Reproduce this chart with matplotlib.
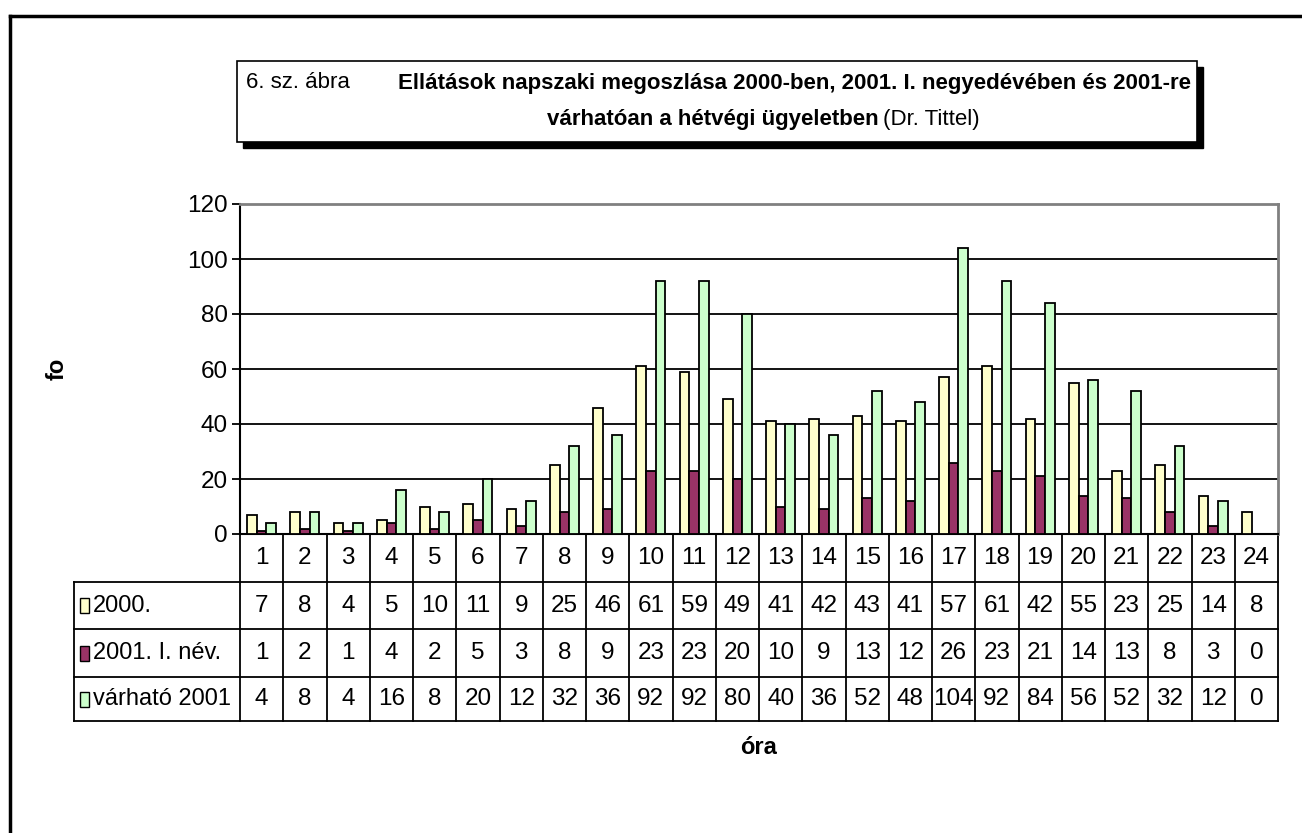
import matplotlib
matplotlib.use("Agg")
import matplotlib.pyplot as plt
import matplotlib.transforms as mtransforms
from matplotlib.patches import Rectangle
from matplotlib.lines import Line2D
from matplotlib import font_manager
import numpy as np

# Data
orak = list(range(1, 25))
ev_2000 = [7, 8, 4, 5, 10, 11, 9, 25, 46, 61, 59, 49, 41, 42, 43, 41, 57, 61, 42, 55, 23, 25, 14, 8]
ev_2001_inev = [1, 2, 1, 4, 2, 5, 3, 8, 9, 23, 23, 20, 10, 9, 13, 12, 26, 23, 21, 14, 13, 8, 3, 0]
varhato_2001 = [4, 8, 4, 16, 8, 20, 12, 32, 36, 92, 92, 80, 40, 36, 52, 48, 104, 92, 84, 56, 52, 32, 12, 0]
sor_nevek = ["2000.", "2001. I. név.", "várható 2001"]
szinek = ["#FFFFCC", "#993366", "#CCFFCC"]

# font: narrow if available
nevek = {f.name for f in font_manager.fontManager.ttflist}
if "Liberation Sans Narrow" in nevek:
    plt.rcParams["font.family"] = ["Liberation Sans Narrow", "DejaVu Sans"]
else:
    plt.rcParams["font.family"] = ["Liberation Sans", "DejaVu Sans"]

W, H = 1302, 833
fig = plt.figure(figsize=(W / 100, H / 100), dpi=100)

def fx(px):
    return px / W

def fy(py):
    return 1 - py / H

# outer frame (top and left visible)
fig.add_artist(Line2D([fx(10), 1.0], [fy(16), fy(16)], color="black", lw=2.5, transform=fig.transFigure))
fig.add_artist(Line2D([fx(10), fx(10)], [fy(16), 0.0], color="black", lw=2.5, transform=fig.transFigure))

# title box with shadow
bx0, by0, bx1, by1 = 237, 61, 1197, 142
fig.add_artist(Rectangle((fx(bx0 + 6), fy(by1 + 6)), fx(bx1 - bx0), fy(by0) - fy(by1),
                         transform=fig.transFigure, facecolor="black", edgecolor="black"))
fig.add_artist(Rectangle((fx(bx0), fy(by1)), fx(bx1 - bx0), fy(by0) - fy(by1),
                         transform=fig.transFigure, facecolor="white", edgecolor="black", lw=1.2))
fig.text(fx(246), fy(83), "6. sz. ábra", fontsize=16, va="center", ha="left")
fig.text(fx(1191), fy(83), "Ellátások napszaki megoszlása 2000-ben, 2001. I. negyedévében és 2001-re",
         fontsize=16, fontweight="bold", va="center", ha="right")
fig.text(fx(879), fy(119), "várhatóan a hétvégi ügyeletben", fontsize=16, fontweight="bold",
         va="center", ha="right")
fig.text(fx(883), fy(119), "(Dr. Tittel)", fontsize=16, va="center", ha="left")

# main axes
ax_left, ax_right, ax_top, ax_bot = 240, 1278, 204, 534
ax = fig.add_axes([fx(ax_left), fy(ax_bot), fx(ax_right - ax_left), fy(ax_top) - fy(ax_bot)])

x = np.array(orak)
w = 0.224
for i, (vals, c) in enumerate(zip([ev_2000, ev_2001_inev, varhato_2001], szinek)):
    v = np.array(vals, dtype=float)
    m = v > 0
    ax.bar(x[m] + (i - 1) * w, v[m], width=w, color=c, edgecolor="black", linewidth=1.3, zorder=3)

ax.set_xlim(0.5, 24.5)
ax.set_ylim(0, 120)
ax.set_yticks(range(0, 121, 20))
ax.tick_params(axis="y", labelsize=17.5, length=6, width=1.3, pad=3)
ax.set_xticks([])
for yv in range(20, 120, 20):
    ax.axhline(yv, color="black", lw=1.3, zorder=1)
ax.spines["top"].set_color("#808080")
ax.spines["right"].set_color("#808080")
ax.spines["top"].set_linewidth(2)
ax.spines["right"].set_linewidth(2)
ax.spines["left"].set_linewidth(1.5)
ax.spines["bottom"].set_linewidth(1.5)

ax.text(-(ax_left - 57) / (ax_right - ax_left), 0.5, "fo", transform=ax.transAxes,
        rotation=90, fontsize=17, fontweight="bold", ha="center", va="center")

# data table under the axis
tr = mtransforms.blended_transform_factory(ax.transData, ax.transAxes)
axh = ax_bot - ax_top

def ay(py):
    return (ax_bot - py) / axh

def axf(px):
    return (px - ax_left) / (ax_right - ax_left)

sor_hatarok = [534, 582, 629, 677, 721]
kozep = [(a + b) / 2 for a, b in zip(sor_hatarok[:-1], sor_hatarok[1:])]

for o in orak:
    ax.text(o, ay(kozep[0]), str(o), transform=tr, ha="center", va="center", fontsize=17.5, clip_on=False)
for r, vals in enumerate([ev_2000, ev_2001_inev, varhato_2001]):
    for o, v in zip(orak, vals):
        ax.text(o, ay(kozep[r + 1]), str(v), transform=tr, ha="center", va="center",
                fontsize=17.5, clip_on=False)

# grid lines of the table
for k in range(25):
    ax.add_line(Line2D([k + 0.5, k + 0.5], [0, ay(sor_hatarok[-1])], transform=tr,
                       color="black", lw=1.3, clip_on=False))
lab_left = 74
for py in sor_hatarok[1:]:
    ax.add_line(Line2D([axf(lab_left), 1.0], [ay(py), ay(py)], transform=ax.transAxes,
                       color="black", lw=1.3, clip_on=False))
ax.add_line(Line2D([axf(lab_left), axf(lab_left)], [ay(sor_hatarok[1]), ay(sor_hatarok[-1])],
                   transform=ax.transAxes, color="black", lw=1.3, clip_on=False))

# row labels with legend keys
for r, (nev, c) in enumerate(zip(sor_nevek, szinek)):
    yc = ay(kozep[r + 1])
    kh = 15 / axh
    ax.add_patch(Rectangle((axf(80), yc - kh / 2), 9 / (ax_right - ax_left), kh,
                           transform=ax.transAxes, facecolor=c, edgecolor="black",
                           lw=1.0, clip_on=False))
    ax.text(axf(93), yc, nev, transform=ax.transAxes, ha="left", va="center",
            fontsize=17, clip_on=False)

fig.text(fx(759), fy(748), "óra", fontsize=17, fontweight="bold", ha="center", va="center")

fig.savefig("out.png", dpi=100)
